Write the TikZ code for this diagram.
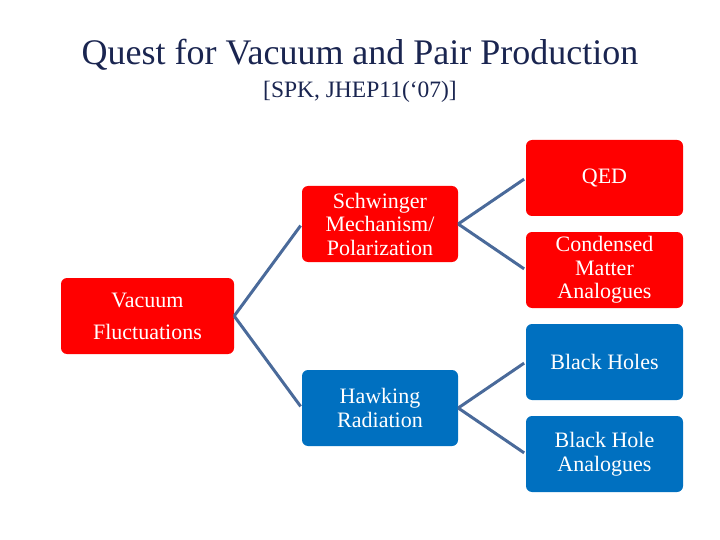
\documentclass[tikz,border=0pt]{standalone}
\usepackage{fontspec}
\setmainfont{Liberation Serif}
\definecolor{boxred}{HTML}{FF0000}
\definecolor{boxblue}{HTML}{0070C0}
\definecolor{linkc}{HTML}{4A6A9A}
\definecolor{titlec}{HTML}{1A2550}
\begin{document}
\begin{tikzpicture}[x=1pt,y=-1pt,
  boxbase/.style={rounded corners=6pt, text=white, align=center, minimum height=76pt, inner sep=0pt,
    font=\fontsize{22}{23.5}\selectfont},
  redbox/.style={boxbase, fill=boxred},
  bluebox/.style={boxbase, fill=boxblue},
  link/.style={draw=linkc, line width=3pt, shorten >=2pt}
]
\useasboundingbox (0,0) rectangle (720,540);
\node[text=titlec, font=\fontsize{36}{40}\selectfont, anchor=base] (title) at (360,65) {Quest for Vacuum and Pair Production};
\node[text=titlec, font=\fontsize{23.5}{26}\selectfont, anchor=base] (sub) at (360,98) {[SPK, JHEP11(‘07)]};

\node[redbox, minimum width=173pt, font=\fontsize{22}{32}\selectfont] (vac) at (147.5,316) {Vacuum\\Fluctuations};
\node[redbox, minimum width=156pt] (sch) at (380,224) {Schwinger\\Mechanism/\\Polarization};
\node[bluebox, minimum width=156pt] (haw) at (380,408) {Hawking\\Radiation};
\node[redbox, minimum width=157pt] (qed) at (604.5,178) {QED};
\node[redbox, minimum width=157pt] (cond) at (604.5,270) {Condensed\\Matter\\Analogues};
\node[bluebox, minimum width=157pt] (bh) at (604.5,362) {Black Holes};
\node[bluebox, minimum width=157pt] (bha) at (604.5,454) {Black Hole\\Analogues};

\draw[link] (vac.east) -- (sch.west);
\draw[link] (vac.east) -- (haw.west);
\draw[link] (sch.east) -- (qed.west);
\draw[link] (sch.east) -- (cond.west);
\draw[link] (haw.east) -- (bh.west);
\draw[link] (haw.east) -- (bha.west);
\end{tikzpicture}
\end{document}
